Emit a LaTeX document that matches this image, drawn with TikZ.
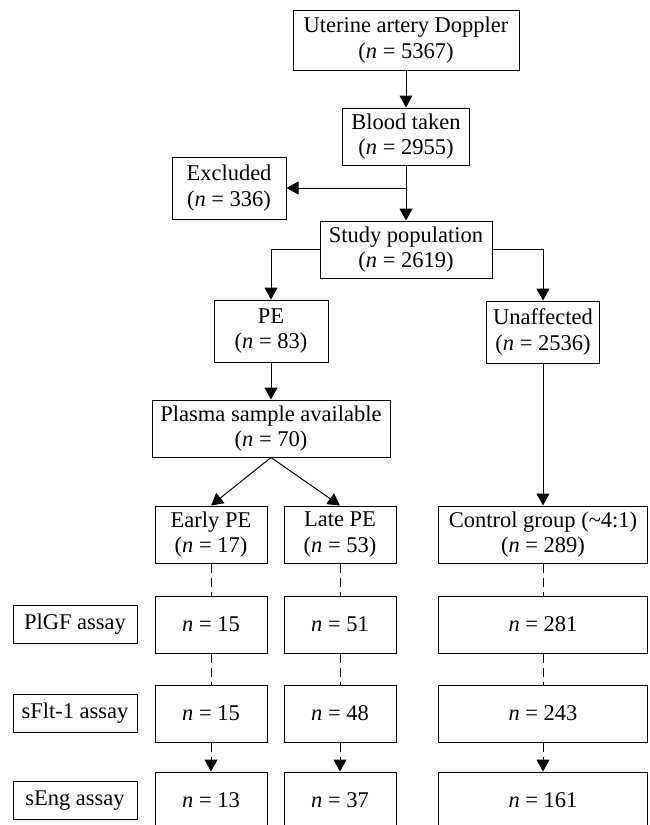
\documentclass[tikz,border=0pt]{standalone}
\usepackage{fontspec}
\setmainfont{Liberation Serif}
\usetikzlibrary{positioning, arrows.meta}
\newcommand{\ncount}[1]{(\textit{n} = #1)}

\begin{document}
\begin{tikzpicture}[
    x=1pt, y=-1pt,
    node distance=37pt and 16pt,
    box/.style={draw, line width=1pt, inner sep=2pt, minimum height=57pt, align=center, font=\fontsize{22.5}{25.5}\selectfont},
    signal/.style={-{Triangle[length=12pt, width=13pt]}, line width=1pt},
    dashedsignal/.style={-{Triangle[length=12pt, width=13pt]}, line width=1pt, dash pattern=on 9pt off 5pt},
    dashedline/.style={line width=1pt, dash pattern=on 9pt off 5pt},
]
    \useasboundingbox (0,0) rectangle (649,825);

    % Screening chain
    \node[box, minimum width=226pt, minimum height=60pt] (doppler) at (406,40) {Uterine artery Doppler\\\ncount{5367}};
    \node[box, minimum width=127pt, below=37pt of doppler] (blood) {Blood taken\\\ncount{2955}};
    \node[box, minimum width=172pt, below=55pt of blood] (study) {Study population\\\ncount{2619}};
    \node[box, minimum width=114pt, minimum height=62pt] (excl) at (229,188) {Excluded\\\ncount{336}};

    % Outcome groups
    \node[box, minimum width=114pt, minimum height=62pt] (pe) at (271,331) {PE\\\ncount{83}};
    \node[box, minimum width=113pt, minimum height=62pt] (unaff) at (543,332) {Unaffected\\\ncount{2536}};
    \node[box, minimum width=238pt, below=37pt of pe] (plasma) {Plasma sample available\\\ncount{70}};

    \node[box, minimum width=112pt] (early) at (211,534.5) {Early PE\\\ncount{17}};
    \node[box, minimum width=112pt, right=16pt of early] (late) {Late PE\\\ncount{53}};
    \node[box, minimum width=209pt] (control) at (543,534.5) {Control group (\textasciitilde4:1)\\\ncount{289}};

    % PlGF assay
    \node[box, minimum width=112pt, below=32pt of early] (plgfE) {\textit{n} = 15};
    \node[box, minimum width=112pt, below=32pt of late] (plgfL) {\textit{n} = 51};
    \node[box, minimum width=209pt, below=32pt of control] (plgfC) {\textit{n} = 281};
    \node[box, minimum width=124pt, minimum height=38pt, left=17pt of plgfE] (plgf) {PlGF assay};

    % sFlt-1 assay
    \node[box, minimum width=112pt, below=31pt of plgfE] (sfltE) {\textit{n} = 15};
    \node[box, minimum width=112pt, below=31pt of plgfL] (sfltL) {\textit{n} = 48};
    \node[box, minimum width=209pt, below=31pt of plgfC] (sfltC) {\textit{n} = 243};
    \node[box, minimum width=124pt, minimum height=38pt, left=17pt of sfltE] (sflt) {sFlt-1 assay};

    % sEng assay
    \node[box, minimum width=112pt, below=29pt of sfltE] (sengE) {\textit{n} = 13};
    \node[box, minimum width=112pt, below=29pt of sfltL] (sengL) {\textit{n} = 37};
    \node[box, minimum width=209pt, below=29pt of sfltC] (sengC) {\textit{n} = 161};
    \node[box, minimum width=124pt, minimum height=38pt, left=17pt of sengE] (seng) {sEng assay};

    % Arrows
    \draw[signal] (doppler) -- (blood);
    \draw[signal] (blood) -- (study);
    \draw[signal] (blood.south |- excl.east) -- (excl.east);
    \draw[signal] (study.west) -| (pe.north);
    \draw[signal] (study.east) -| (unaff.north);
    \draw[signal] (pe) -- (plasma);
    \draw[signal] (plasma.south) -- (early.north);
    \draw[signal] (plasma.south) -- (late.north);
    \draw[signal] (unaff) -- (control);

    \draw[dashedline] (early) -- (plgfE);
    \draw[dashedline] (late) -- (plgfL);
    \draw[dashedline] (control) -- (plgfC);
    \draw[dashedline] (plgfE) -- (sfltE);
    \draw[dashedline] (plgfL) -- (sfltL);
    \draw[dashedline] (plgfC) -- (sfltC);
    \draw[dashedsignal] (sfltE) -- (sengE);
    \draw[dashedsignal] (sfltL) -- (sengL);
    \draw[dashedsignal] (sfltC) -- (sengC);

\end{tikzpicture}
\end{document}
